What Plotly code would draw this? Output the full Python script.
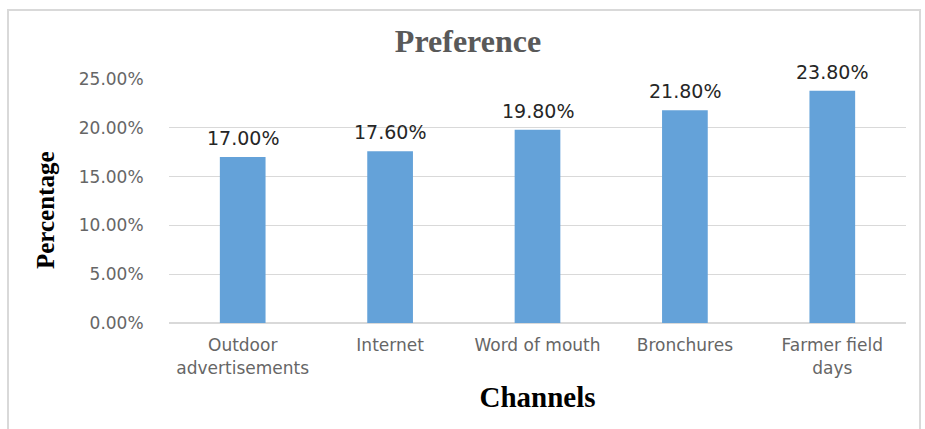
import plotly.graph_objects as go

categories = ["Outdoor<br>advertisements", "Internet", "Word of mouth", "Bronchures", "Farmer field<br>days"]
values = [0.170, 0.176, 0.198, 0.218, 0.238]
y_ticks = [0, 0.05, 0.10, 0.15, 0.20, 0.25]

W, H = 925, 429
L, R, T, B = 169, 19, 79, 106
pw, ph = W - L - R, H - T - B

def px_x(x):
    return (x - L) / pw

def px_y(y):
    return (H - B - y) / ph

fig = go.Figure(go.Bar(
    x=categories, y=values,
    marker=dict(color="#64a2d9", line=dict(width=0)),
    cliponaxis=False, width=0.31,
))

annotations = [
    dict(x=c, y=v, xref="x", yref="y", text=f"{v * 100:.2f}%", showarrow=False,
         yanchor="bottom", yshift=6,
         font=dict(family="DejaVu Sans", size=19, color="#262626"))
    for c, v in zip(categories, values)
]
annotations.append(dict(
    x=px_x(45), y=px_y(210), xref="paper", yref="paper", text="<b>Percentage</b>",
    showarrow=False, textangle=-90, xanchor="center", yanchor="middle",
    font=dict(family="Liberation Serif", size=25, color="black")))

fig.update_layout(
    width=W, height=H,
    margin=dict(l=L, r=R, t=T, b=B, autoexpand=False),
    paper_bgcolor="white", plot_bgcolor="white",
    showlegend=False,
    title=dict(text="<b>Preference</b>", xref="paper", x=px_x(468), xanchor="center",
               y=1 - 41 / H, yanchor="middle",
               font=dict(family="Liberation Serif", size=32, color="#595959")),
    xaxis=dict(showgrid=False, showline=True, linecolor="#d9d9d9", linewidth=1,
               ticks="outside", ticklen=7, tickcolor="rgba(0,0,0,0)",
               tickfont=dict(family="DejaVu Sans", size=17, color="#666666"),
               title=dict(text="<b>Channels</b>", standoff=10,
                          font=dict(family="Liberation Serif", size=29, color="black"))),
    yaxis=dict(range=[0, 0.25], tickvals=y_ticks, tickformat=".2%",
               showgrid=True, gridcolor="#d9d9d9", gridwidth=1,
               zeroline=True, zerolinecolor="#d9d9d9",
               ticks="outside", ticklen=21, tickcolor="rgba(0,0,0,0)",
               tickfont=dict(family="DejaVu Sans", size=17, color="#666666")),
    annotations=annotations,
    shapes=[dict(type="rect", xref="paper", yref="paper",
                 x0=px_x(8), x1=px_x(920), y0=px_y(460), y1=px_y(10),
                 line=dict(color="#d9d9d9", width=2), fillcolor="rgba(0,0,0,0)", layer="below")],
)

fig.write_html("out.html")
